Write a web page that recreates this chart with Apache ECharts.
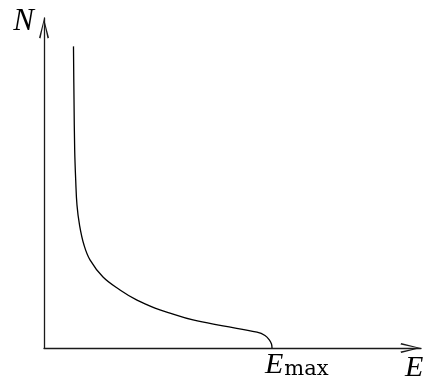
<!DOCTYPE html>
<html>
<head>
<meta charset="utf-8">
<script src="https://cdn.jsdelivr.net/npm/echarts@6/dist/echarts.min.js"></script>
<style>
  html, body { margin: 0; padding: 0; background: #fff; }
  #chart { width: 428px; height: 387px; }
</style>
</head>
<body>
<div id="chart"></div>
<script>
// Energy spectrum: number of particles N against energy E, cut off at E_max
const energy = [0.782, 0.796, 0.814, 0.841, 0.875, 0.942, 1.061, 1.22, 1.565, 2.016,
                2.467, 2.944, 3.342, 3.952, 4.748, 5.65, 5.862, 5.981, 6.034, 6.048];
const count  = [9.14, 7.52, 6.0, 5.09, 4.33, 3.73, 3.12, 2.67, 2.15, 1.76,
                1.45, 1.21, 1.06, 0.85, 0.67, 0.48, 0.38, 0.24, 0.12, 0];

const E_MAX = 6.048;
const xTickValues = [E_MAX];
const xTickSymbol = 'E';
const xTickSubscript = 'max';
const xAxisName = 'E';
const yAxisName = 'N';

const SERIF = 'Liberation Serif';
const SUB_SERIF = 'DejaVu Serif';
// open chevron arrow head, tip pointing up in its own frame
const OPEN_ARROW = 'path://M5,0 L10,19.3 L8.5,20 L5,3.4 L1.5,20 L0,19.3 Z';

const points = energy.map((e, i) => [e, count[i]]);

const axisLineCommon = {
  show: true,
  onZero: false,
  symbol: ['none', OPEN_ARROW],
  symbolSize: [10, 21],
  symbolOffset: [0, -10.5],
  lineStyle: { color: '#1a1a1a', width: 1.3 }
};

const chart = echarts.init(document.getElementById('chart'), null, { renderer: 'canvas' });
chart.setOption({
  animation: false,
  backgroundColor: '#fff',
  textStyle: { fontFamily: SERIF },
  grid: { left: 44, right: 7, top: 18, bottom: 39, containLabel: false },
  xAxis: {
    type: 'value',
    min: 0,
    max: 10,
    name: xAxisName,
    nameLocation: 'end',
    nameGap: -16,
    nameTextStyle: {
      fontFamily: SERIF, fontStyle: 'italic', fontSize: 30, color: '#000',
      align: 'left', verticalAlign: 'top', lineHeight: 30, padding: [5, 0, 0, 0]
    },
    axisLine: axisLineCommon,
    axisTick: { show: false },
    splitLine: { show: false },
    axisLabel: {
      show: true,
      customValues: xTickValues,
      margin: 2,
      align: 'left',
      fontFamily: SERIF,
      fontSize: 24,
      color: '#000',
      padding: [0, 0, 0, -7],
      formatter: () => '{sym|' + xTickSymbol + '}{low|' + xTickSubscript + '}',
      rich: {
        sym: { fontFamily: SERIF, fontStyle: 'italic', fontSize: 30, color: '#000', lineHeight: 30 },
        low: { fontFamily: SUB_SERIF, fontSize: 21, color: '#000', lineHeight: 30, padding: [10, 0, 0, 1] }
      }
    }
  },
  yAxis: {
    type: 'value',
    min: 0,
    max: 10,
    name: yAxisName,
    nameLocation: 'end',
    nameGap: -4,
    nameTextStyle: {
      fontFamily: SERIF, fontStyle: 'italic', fontSize: 31, color: '#000',
      align: 'right', verticalAlign: 'middle', padding: [0, 10, 0, 0]
    },
    axisLine: axisLineCommon,
    axisTick: { show: false },
    splitLine: { show: false },
    axisLabel: { show: false }
  },
  series: [{
    type: 'line',
    data: points,
    smooth: 0.4,
    showSymbol: false,
    symbol: 'none',
    lineStyle: { color: '#000', width: 1.3 },
    clip: false
  }]
});
</script>
</body>
</html>
